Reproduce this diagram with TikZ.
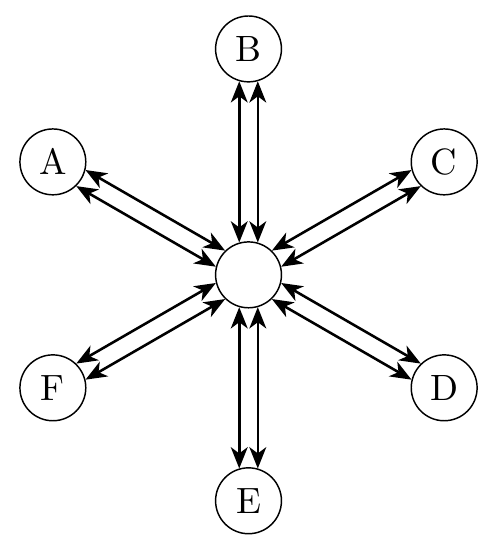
\documentclass[tikz,border=0pt]{standalone}
\usetikzlibrary{arrows.meta}
\begin{document}
\begin{tikzpicture}[line cap=round,line join=round,>={Stealth[length=5.8pt,width=4.6pt,inset=1.7pt]},
        station/.style={circle,draw,minimum size=18pt,inner sep=0pt}]
        \useasboundingbox (-2.387,-2.71) rectangle (2.387,2.64);
        \node[station] (O) at (0,0) {};
        \foreach \n/\a in {C/30,B/90,A/150,F/210,E/270,D/330}
        \node[station] (\n) at (\a:2.17) {\n};
        \foreach \n/\a [evaluate=\a as \p using {int(\a+16)},
                        evaluate=\a as \q using {int(\a-16)},
                        evaluate=\a as \r using {int(\a+164)},
                        evaluate=\a as \s using {int(\a+196)}] in {C/30,B/90,A/150,F/210,E/270,D/330}
        {
            \draw[<->,line width=0.7pt] (O.\p) -- (\n.\r);
            \draw[<->,line width=0.7pt] (O.\q) -- (\n.\s);
        }
    \end{tikzpicture}
\end{document}
